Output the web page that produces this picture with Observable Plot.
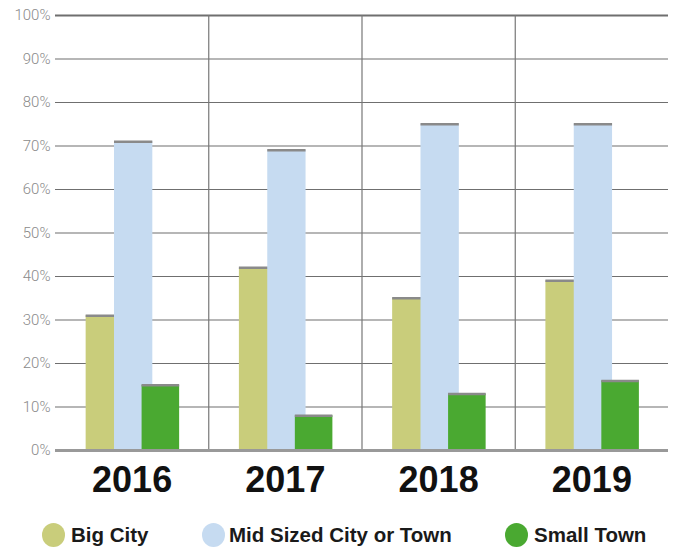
<!DOCTYPE html>
<html>
<head>
<meta charset="utf-8">
<script src="https://cdn.jsdelivr.net/npm/d3@7"></script>
<script src="https://cdn.jsdelivr.net/npm/@observablehq/plot@0.6"></script>
<style>
  body { margin: 0; background: #fff; font-family: "Liberation Sans", Arial, sans-serif; }
  #legend { position: relative; height: 50px; }
  .dot { position: absolute; top: 23px; width: 23px; height: 24px; border-radius: 50%; }
  .lab { position: absolute; top: 23px; line-height: 24px; font-weight: bold; font-size: 20.5px; color: #1a1a1a; font-family: "Liberation Sans", Arial, sans-serif; white-space: nowrap; }
</style>
</head>
<body>
<div id="chart"></div>
<div id="legend"></div>
<script>
const years = ["2016", "2017", "2018", "2019"];
const series = ["Big City", "Mid Sized City or Town", "Small Town"];
const bigCity = [31, 42, 35, 39];
const midSized = [71, 69, 75, 75];
const smallTown = [15, 8, 13, 16];
const colors = ["#c9cd7b", "#c6dbf1", "#4aa931"];
const yTicks = [0, 10, 20, 30, 40, 50, 60, 70, 80, 90, 100];

// bar position within each year slot (fraction of slot)
const offsets = [[0.2, 0.45], [0.385, 0.635], [0.565, 0.81]];
const valuesBySeries = [bigCity, midSized, smallTown];

const barsBySeries = series.map((s, si) => years.map((y, yi) => ({
  series: s, year: y, value: valuesBySeries[si][yi],
  x1: yi + offsets[si][0], x2: yi + offsets[si][1], color: colors[si]
})));

const barMarks = barsBySeries.flatMap(data => [
  Plot.rectY(data, {x1: "x1", x2: "x2", y1: 0, y2: "value", fill: "color"}),
  Plot.ruleY(data, {x1: "x1", x2: "x2", y: "value", stroke: "#8a8a8a", strokeWidth: 2.5})
]);

const chart = Plot.plot({
  width: 676,
  height: 500,
  marginLeft: 55,
  marginRight: 8,
  marginTop: 15,
  marginBottom: 50,
  style: {fontFamily: "Roboto, 'Liberation Sans', sans-serif", background: "#fff"},
  x: {domain: [0, years.length], axis: null},
  y: {domain: [0, 100]},
  marks: [
    Plot.ruleY(yTicks.filter(d => d > 0 && d < 100), {x1: 0, x2: years.length, stroke: "#6f6f6f", strokeWidth: 1.2}),
    Plot.ruleY([100], {x1: 0, x2: years.length, stroke: "#6f6f6f", strokeWidth: 1.8}),
    Plot.ruleX([1, 2, 3], {y1: 0, y2: 100, stroke: "#777", strokeWidth: 1.2}),
    ...barMarks,
    Plot.ruleY([0], {x1: 0, x2: years.length, stroke: "#999", strokeWidth: 3}),
    Plot.axisY({ticks: yTicks, tickFormat: d => d + "%", tickSize: 0, tickPadding: 5, fontSize: 15, fontWeight: 300, color: "#8a8a8a", label: null}),
    Plot.text(years, {x: (d, i) => i + 0.5, y: 0, text: d => d, dy: 30, fontSize: 36, fontWeight: "bold", fill: "#111", fontFamily: "'Liberation Sans', Arial, sans-serif"})
  ]
});
document.getElementById("chart").appendChild(chart);

const dotPos = [42, 202, 505];
const labPos = [71, 229, 534];
const legend = document.getElementById("legend");
series.forEach((s, i) => {
  const dot = document.createElement("div");
  dot.className = "dot";
  dot.style.left = dotPos[i] + "px";
  dot.style.background = colors[i];
  legend.appendChild(dot);
  const lab = document.createElement("div");
  lab.className = "lab";
  lab.style.left = labPos[i] + "px";
  lab.textContent = s;
  legend.appendChild(lab);
});
</script>
</body>
</html>
